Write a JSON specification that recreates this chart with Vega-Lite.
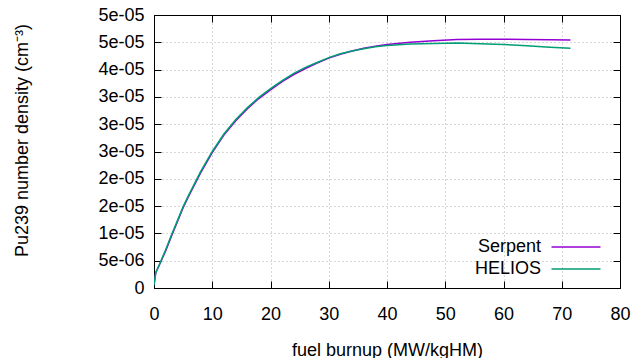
{
  "$schema": "https://vega.github.io/schema/vega-lite/v6.json",
  "width": 466,
  "height": 273,
  "autosize": {"type": "none"},
  "padding": {"left": 154, "top": 15, "right": 16, "bottom": 70},
  "background": "white",
  "config": {
    "font": "Liberation Sans",
    "view": {"stroke": "black", "strokeWidth": 1},
    "axis": {
      "labelFont": "Liberation Sans",
      "titleFont": "Liberation Sans",
      "labelFontSize": 18,
      "titleFontSize": 18,
      "titleFontWeight": "normal",
      "labelColor": "black",
      "titleColor": "black",
      "domainColor": "black",
      "tickColor": "black",
      "tickSize": -7,
      "tickWidth": 1,
      "labelFlush": false,
      "gridColor": "#b0b0b0",
      "gridDash": [1, 3],
      "gridWidth": 1
    },
    "legend": {
      "labelFont": "Liberation Sans",
      "labelFontSize": 18,
      "labelColor": "black"
    }
  },
  "data": {
    "values": [
      {"burnup": 0, "density": 0.05e-5, "code": "Serpent"},
      {"burnup": 0.3, "density": 0.28e-5, "code": "Serpent"},
      {"burnup": 1, "density": 0.44e-5, "code": "Serpent"},
      {"burnup": 2, "density": 0.68e-5, "code": "Serpent"},
      {"burnup": 3, "density": 0.95e-5, "code": "Serpent"},
      {"burnup": 4, "density": 1.21e-5, "code": "Serpent"},
      {"burnup": 5, "density": 1.47e-5, "code": "Serpent"},
      {"burnup": 6, "density": 1.69e-5, "code": "Serpent"},
      {"burnup": 8, "density": 2.11e-5, "code": "Serpent"},
      {"burnup": 10, "density": 2.48e-5, "code": "Serpent"},
      {"burnup": 12, "density": 2.80e-5, "code": "Serpent"},
      {"burnup": 14, "density": 3.06e-5, "code": "Serpent"},
      {"burnup": 16, "density": 3.28e-5, "code": "Serpent"},
      {"burnup": 18, "density": 3.47e-5, "code": "Serpent"},
      {"burnup": 20, "density": 3.63e-5, "code": "Serpent"},
      {"burnup": 22, "density": 3.78e-5, "code": "Serpent"},
      {"burnup": 24, "density": 3.91e-5, "code": "Serpent"},
      {"burnup": 26, "density": 4.02e-5, "code": "Serpent"},
      {"burnup": 28, "density": 4.12e-5, "code": "Serpent"},
      {"burnup": 30, "density": 4.21e-5, "code": "Serpent"},
      {"burnup": 32, "density": 4.28e-5, "code": "Serpent"},
      {"burnup": 34, "density": 4.34e-5, "code": "Serpent"},
      {"burnup": 36, "density": 4.39e-5, "code": "Serpent"},
      {"burnup": 38, "density": 4.43e-5, "code": "Serpent"},
      {"burnup": 40, "density": 4.46e-5, "code": "Serpent"},
      {"burnup": 44, "density": 4.50e-5, "code": "Serpent"},
      {"burnup": 48, "density": 4.53e-5, "code": "Serpent"},
      {"burnup": 52, "density": 4.55e-5, "code": "Serpent"},
      {"burnup": 56, "density": 4.555e-5, "code": "Serpent"},
      {"burnup": 60, "density": 4.555e-5, "code": "Serpent"},
      {"burnup": 64, "density": 4.55e-5, "code": "Serpent"},
      {"burnup": 68, "density": 4.545e-5, "code": "Serpent"},
      {"burnup": 71.5, "density": 4.54e-5, "code": "Serpent"},
      {"burnup": 0, "density": 0.05e-5, "code": "HELIOS"},
      {"burnup": 0.3, "density": 0.28e-5, "code": "HELIOS"},
      {"burnup": 1, "density": 0.45e-5, "code": "HELIOS"},
      {"burnup": 2, "density": 0.70e-5, "code": "HELIOS"},
      {"burnup": 3, "density": 0.97e-5, "code": "HELIOS"},
      {"burnup": 4, "density": 1.23e-5, "code": "HELIOS"},
      {"burnup": 5, "density": 1.49e-5, "code": "HELIOS"},
      {"burnup": 6, "density": 1.71e-5, "code": "HELIOS"},
      {"burnup": 8, "density": 2.13e-5, "code": "HELIOS"},
      {"burnup": 10, "density": 2.50e-5, "code": "HELIOS"},
      {"burnup": 12, "density": 2.82e-5, "code": "HELIOS"},
      {"burnup": 14, "density": 3.08e-5, "code": "HELIOS"},
      {"burnup": 16, "density": 3.30e-5, "code": "HELIOS"},
      {"burnup": 18, "density": 3.49e-5, "code": "HELIOS"},
      {"burnup": 20, "density": 3.65e-5, "code": "HELIOS"},
      {"burnup": 22, "density": 3.80e-5, "code": "HELIOS"},
      {"burnup": 24, "density": 3.93e-5, "code": "HELIOS"},
      {"burnup": 26, "density": 4.04e-5, "code": "HELIOS"},
      {"burnup": 28, "density": 4.13e-5, "code": "HELIOS"},
      {"burnup": 30, "density": 4.22e-5, "code": "HELIOS"},
      {"burnup": 32, "density": 4.29e-5, "code": "HELIOS"},
      {"burnup": 34, "density": 4.34e-5, "code": "HELIOS"},
      {"burnup": 36, "density": 4.38e-5, "code": "HELIOS"},
      {"burnup": 38, "density": 4.42e-5, "code": "HELIOS"},
      {"burnup": 40, "density": 4.44e-5, "code": "HELIOS"},
      {"burnup": 44, "density": 4.47e-5, "code": "HELIOS"},
      {"burnup": 48, "density": 4.48e-5, "code": "HELIOS"},
      {"burnup": 52, "density": 4.485e-5, "code": "HELIOS"},
      {"burnup": 56, "density": 4.475e-5, "code": "HELIOS"},
      {"burnup": 60, "density": 4.46e-5, "code": "HELIOS"},
      {"burnup": 64, "density": 4.435e-5, "code": "HELIOS"},
      {"burnup": 68, "density": 4.41e-5, "code": "HELIOS"},
      {"burnup": 71.5, "density": 4.39e-5, "code": "HELIOS"}
    ]
  },
  "resolve": {"axis": {"x": "independent", "y": "independent"}},
  "layer": [
    {
      "mark": {"type": "line", "strokeWidth": 1.5, "clip": true},
      "encoding": {
        "x": {
          "field": "burnup", "type": "quantitative",
          "scale": {"domain": [0, 80], "nice": false},
          "axis": {"values": [0, 10, 20, 30, 40, 50, 60, 70, 80], "title": "fuel burnup (MW/kgHM)", "labelPadding": 24, "titlePadding": 18, "grid": true}
        },
        "y": {
          "field": "density", "type": "quantitative",
          "scale": {"domain": [0, 5e-5], "nice": false},
          "axis": {
            "values": [0, 5e-6, 1e-5, 1.5e-5, 2e-5, 2.5e-5, 3e-5, 3.5e-5, 4e-5, 4.5e-5, 5e-5],
            "labelExpr": "datum.value == 0 ? '0' : (datum.value < 7e-6 ? '5e-06' : round(datum.value * 1e5) + 'e-05')",
            "title": "Pu239 number density (cm⁻³)",
            "labelPadding": 17,
            "titleX": -132,
            "titleY": 125,
            "titleBaseline": "middle",
            "grid": true
          }
        },
        "color": {
          "field": "code", "type": "nominal",
          "scale": {"domain": ["Serpent", "HELIOS"], "range": ["#9400d3", "#009e73"]},
          "legend": {
            "title": null,
            "orient": "none",
            "legendX": 409,
            "legendY": 219,
            "symbolType": "M-2,0H2",
            "symbolSize": 600,
            "symbolStrokeWidth": 1.5,
            "labelAlign": "right",
            "labelOffset": -48,
            "rowPadding": 0,
            "padding": 0
          }
        }
      }
    },
    {
      "mark": {"type": "line", "opacity": 0},
      "encoding": {
        "x": {
          "field": "burnup", "type": "quantitative",
          "axis": {"orient": "top", "values": [0, 10, 20, 30, 40, 50, 60, 70, 80], "labels": false, "title": null, "grid": false}
        },
        "y": {
          "field": "density", "type": "quantitative",
          "axis": {"orient": "right", "values": [0, 5e-6, 1e-5, 1.5e-5, 2e-5, 2.5e-5, 3e-5, 3.5e-5, 4e-5, 4.5e-5, 5e-5], "labels": false, "title": null, "grid": false}
        },
        "detail": {"field": "code", "type": "nominal"}
      }
    }
  ]
}
